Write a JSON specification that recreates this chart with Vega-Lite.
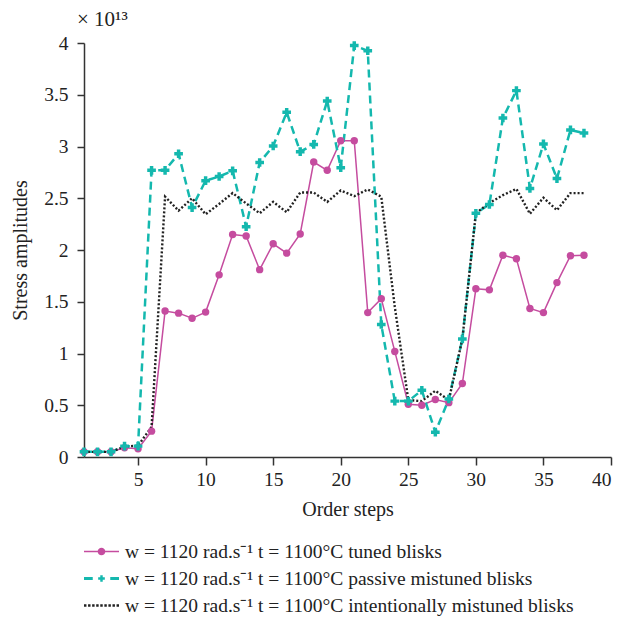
{
  "$schema": "https://vega.github.io/schema/vega-lite/v6.json",
  "width": 527,
  "height": 414,
  "autosize": {"type": "none"},
  "padding": {"left": 84, "top": 43, "right": 12, "bottom": 161},
  "background": "white",
  "config": {
    "view": {"stroke": null},
    "font": "Liberation Serif",
    "axis": {
      "grid": false,
      "domainColor": "#333333",
      "tickColor": "#333333",
      "domainWidth": 1.5,
      "tickWidth": 1.5,
      "labelColor": "#222222",
      "titleColor": "#222222",
      "labelFontSize": 19.5,
      "titleFontSize": 20,
      "titleFontWeight": "normal"
    }
  },
  "title": {
    "text": "× 10¹³",
    "anchor": "start",
    "frame": "group",
    "fontSize": 21,
    "fontWeight": "normal",
    "color": "#222222",
    "dx": -7,
    "offset": 3
  },
  "data": {
    "values": [
      {"step": 1, "series": "tuned", "stress": 0.05},
      {"step": 2, "series": "tuned", "stress": 0.05},
      {"step": 3, "series": "tuned", "stress": 0.05},
      {"step": 4, "series": "tuned", "stress": 0.09},
      {"step": 5, "series": "tuned", "stress": 0.08},
      {"step": 6, "series": "tuned", "stress": 0.25},
      {"step": 7, "series": "tuned", "stress": 1.41},
      {"step": 8, "series": "tuned", "stress": 1.39},
      {"step": 9, "series": "tuned", "stress": 1.34},
      {"step": 10, "series": "tuned", "stress": 1.40},
      {"step": 11, "series": "tuned", "stress": 1.76},
      {"step": 12, "series": "tuned", "stress": 2.15},
      {"step": 13, "series": "tuned", "stress": 2.135},
      {"step": 14, "series": "tuned", "stress": 1.81},
      {"step": 15, "series": "tuned", "stress": 2.06},
      {"step": 16, "series": "tuned", "stress": 1.97},
      {"step": 17, "series": "tuned", "stress": 2.155},
      {"step": 18, "series": "tuned", "stress": 2.85},
      {"step": 19, "series": "tuned", "stress": 2.77},
      {"step": 20, "series": "tuned", "stress": 3.055},
      {"step": 21, "series": "tuned", "stress": 3.055},
      {"step": 22, "series": "tuned", "stress": 1.395},
      {"step": 23, "series": "tuned", "stress": 1.53},
      {"step": 24, "series": "tuned", "stress": 1.02},
      {"step": 25, "series": "tuned", "stress": 0.51},
      {"step": 26, "series": "tuned", "stress": 0.50},
      {"step": 27, "series": "tuned", "stress": 0.555},
      {"step": 28, "series": "tuned", "stress": 0.525},
      {"step": 29, "series": "tuned", "stress": 0.71},
      {"step": 30, "series": "tuned", "stress": 1.625},
      {"step": 31, "series": "tuned", "stress": 1.615},
      {"step": 32, "series": "tuned", "stress": 1.95},
      {"step": 33, "series": "tuned", "stress": 1.915},
      {"step": 34, "series": "tuned", "stress": 1.435},
      {"step": 35, "series": "tuned", "stress": 1.395},
      {"step": 36, "series": "tuned", "stress": 1.685},
      {"step": 37, "series": "tuned", "stress": 1.945},
      {"step": 38, "series": "tuned", "stress": 1.95},
      {"step": 1, "series": "passive", "stress": 0.05},
      {"step": 2, "series": "passive", "stress": 0.05},
      {"step": 3, "series": "passive", "stress": 0.05},
      {"step": 4, "series": "passive", "stress": 0.105},
      {"step": 5, "series": "passive", "stress": 0.105},
      {"step": 6, "series": "passive", "stress": 2.77},
      {"step": 7, "series": "passive", "stress": 2.77},
      {"step": 8, "series": "passive", "stress": 2.93},
      {"step": 9, "series": "passive", "stress": 2.41},
      {"step": 10, "series": "passive", "stress": 2.67},
      {"step": 11, "series": "passive", "stress": 2.71},
      {"step": 12, "series": "passive", "stress": 2.765},
      {"step": 13, "series": "passive", "stress": 2.225},
      {"step": 14, "series": "passive", "stress": 2.845},
      {"step": 15, "series": "passive", "stress": 3.005},
      {"step": 16, "series": "passive", "stress": 3.33},
      {"step": 17, "series": "passive", "stress": 2.95},
      {"step": 18, "series": "passive", "stress": 3.02},
      {"step": 19, "series": "passive", "stress": 3.44},
      {"step": 20, "series": "passive", "stress": 2.795},
      {"step": 21, "series": "passive", "stress": 3.975},
      {"step": 22, "series": "passive", "stress": 3.925},
      {"step": 23, "series": "passive", "stress": 1.28},
      {"step": 24, "series": "passive", "stress": 0.54},
      {"step": 25, "series": "passive", "stress": 0.54},
      {"step": 26, "series": "passive", "stress": 0.645},
      {"step": 27, "series": "passive", "stress": 0.24},
      {"step": 28, "series": "passive", "stress": 0.56},
      {"step": 29, "series": "passive", "stress": 1.14},
      {"step": 30, "series": "passive", "stress": 2.355},
      {"step": 31, "series": "passive", "stress": 2.44},
      {"step": 32, "series": "passive", "stress": 3.275},
      {"step": 33, "series": "passive", "stress": 3.54},
      {"step": 34, "series": "passive", "stress": 2.595},
      {"step": 35, "series": "passive", "stress": 3.025},
      {"step": 36, "series": "passive", "stress": 2.69},
      {"step": 37, "series": "passive", "stress": 3.16},
      {"step": 38, "series": "passive", "stress": 3.13},
      {"step": 1, "series": "intentional", "stress": 0.05},
      {"step": 2, "series": "intentional", "stress": 0.05},
      {"step": 3, "series": "intentional", "stress": 0.05},
      {"step": 4, "series": "intentional", "stress": 0.1},
      {"step": 5, "series": "intentional", "stress": 0.11},
      {"step": 6, "series": "intentional", "stress": 0.29},
      {"step": 7, "series": "intentional", "stress": 2.515},
      {"step": 8, "series": "intentional", "stress": 2.38},
      {"step": 9, "series": "intentional", "stress": 2.50},
      {"step": 10, "series": "intentional", "stress": 2.345},
      {"step": 11, "series": "intentional", "stress": 2.445},
      {"step": 12, "series": "intentional", "stress": 2.55},
      {"step": 13, "series": "intentional", "stress": 2.45},
      {"step": 14, "series": "intentional", "stress": 2.355},
      {"step": 15, "series": "intentional", "stress": 2.465},
      {"step": 16, "series": "intentional", "stress": 2.365},
      {"step": 17, "series": "intentional", "stress": 2.555},
      {"step": 18, "series": "intentional", "stress": 2.555},
      {"step": 19, "series": "intentional", "stress": 2.465},
      {"step": 20, "series": "intentional", "stress": 2.575},
      {"step": 21, "series": "intentional", "stress": 2.52},
      {"step": 22, "series": "intentional", "stress": 2.585},
      {"step": 23, "series": "intentional", "stress": 2.515},
      {"step": 24, "series": "intentional", "stress": 1.45},
      {"step": 25, "series": "intentional", "stress": 0.55},
      {"step": 26, "series": "intentional", "stress": 0.54},
      {"step": 27, "series": "intentional", "stress": 0.64},
      {"step": 28, "series": "intentional", "stress": 0.55},
      {"step": 29, "series": "intentional", "stress": 1.14},
      {"step": 30, "series": "intentional", "stress": 2.355},
      {"step": 31, "series": "intentional", "stress": 2.455},
      {"step": 32, "series": "intentional", "stress": 2.53},
      {"step": 33, "series": "intentional", "stress": 2.59},
      {"step": 34, "series": "intentional", "stress": 2.35},
      {"step": 35, "series": "intentional", "stress": 2.505},
      {"step": 36, "series": "intentional", "stress": 2.385},
      {"step": 37, "series": "intentional", "stress": 2.55},
      {"step": 38, "series": "intentional", "stress": 2.55}
    ]
  },
  "encoding": {
    "x": {
      "field": "step",
      "type": "quantitative",
      "scale": {"domain": [1, 40], "nice": false, "zero": false},
      "axis": {
        "title": "Order steps",
        "values": [5, 10, 15, 20, 25, 30, 35, 40],
        "tickSize": 8,
        "labelPadding": 5,
        "titlePadding": 11
      }
    },
    "y": {
      "field": "stress",
      "type": "quantitative",
      "scale": {"domain": [0, 4], "nice": false},
      "axis": {
        "title": "Stress amplitudes",
        "values": [0, 0.5, 1, 1.5, 2, 2.5, 3, 3.5, 4],
        "format": "~g",
        "tickSize": 7,
        "labelPadding": 9,
        "titlePadding": 13
      }
    }
  },
  "layer": [
    {
      "transform": [{"filter": "datum.series === 'tuned'"}],
      "mark": {"type": "line", "color": "#C54C9F", "strokeWidth": 1.5},
      "encoding": {}
    },
    {
      "transform": [{"filter": "datum.series === 'passive'"}],
      "mark": {"type": "line", "color": "#14B8AE", "strokeWidth": 2.5, "strokeDash": [8, 5], "strokeCap": "butt"},
      "encoding": {}
    },
    {
      "transform": [{"filter": "datum.series === 'intentional'"}],
      "mark": {"type": "line", "color": "#222222", "strokeWidth": 2.4, "strokeDash": [2, 2], "strokeCap": "butt"},
      "encoding": {}
    },
    {
      "transform": [{"filter": "datum.series === 'tuned'"}],
      "mark": {"type": "point", "shape": "circle", "filled": true, "opacity": 1, "size": 55, "color": "#C54C9F"},
      "encoding": {}
    },
    {
      "transform": [{"filter": "datum.series === 'passive'"}],
      "mark": {"type": "point", "shape": "cross", "filled": true, "opacity": 1, "size": 75, "color": "#14B8AE"},
      "encoding": {}
    },
    {
      "transform": [{"filter": "datum.step === 1"}],
      "mark": {"type": "point", "filled": true, "size": 0, "strokeWidth": 0},
      "encoding": {
        "color": {
          "field": "series",
          "type": "nominal",
          "scale": {"domain": ["tuned", "passive", "intentional"], "range": ["#C54C9F", "#14B8AE", "#222222"]},
          "legend": {
            "title": null,
            "orient": "bottom",
            "direction": "vertical",
            "offset": 14,
            "padding": 0,
            "symbolSize": 1225,
            "symbolStrokeWidth": 0,
            "symbolOpacity": 1,
            "labelFontSize": 19.5,
            "labelColor": "#222222",
            "labelOffset": 6,
            "labelLimit": 0,
            "rowPadding": 0,
            "labelExpr": "datum.value === 'tuned' ? 'w = 1120 rad.s⁻¹ t = 1100°C tuned blisks' : datum.value === 'passive' ? 'w = 1120 rad.s⁻¹ t = 1100°C passive mistuned blisks' : 'w = 1120 rad.s⁻¹ t = 1100°C intentionally mistuned blisks'"
          }
        },
        "shape": {
          "field": "series",
          "type": "nominal",
          "scale": {
            "domain": ["tuned", "passive", "intentional"],
            "range": [
              "M-1,-0.045H1V0.045H-1Z M0.22,0A0.22,0.22,0,1,1,-0.22,0A0.22,0.22,0,1,1,0.22,0Z",
              "M-1,-0.08H-0.5V0.08H-1Z M0.5,-0.08H1V0.08H0.5Z M-0.07,-0.19H0.07V-0.07H0.19V0.07H0.07V0.19H-0.07V0.07H-0.19V-0.07H-0.07Z",
              "M-1,-0.07h0.14v0.14h-0.14Z M-0.7675,-0.07h0.14v0.14h-0.14Z M-0.535,-0.07h0.14v0.14h-0.14Z M-0.3025,-0.07h0.14v0.14h-0.14Z M-0.07,-0.07h0.14v0.14h-0.14Z M0.1625,-0.07h0.14v0.14h-0.14Z M0.395,-0.07h0.14v0.14h-0.14Z M0.6275,-0.07h0.14v0.14h-0.14Z M0.86,-0.07h0.14v0.14h-0.14Z"
            ]
          },
          "legend": {
            "title": null,
            "orient": "bottom",
            "direction": "vertical",
            "offset": 14,
            "padding": 0,
            "symbolSize": 1225,
            "symbolStrokeWidth": 0,
            "symbolOpacity": 1,
            "labelFontSize": 19.5,
            "labelColor": "#222222",
            "labelOffset": 6,
            "labelLimit": 0,
            "rowPadding": 0,
            "labelExpr": "datum.value === 'tuned' ? 'w = 1120 rad.s⁻¹ t = 1100°C tuned blisks' : datum.value === 'passive' ? 'w = 1120 rad.s⁻¹ t = 1100°C passive mistuned blisks' : 'w = 1120 rad.s⁻¹ t = 1100°C intentionally mistuned blisks'"
          }
        }
      }
    }
  ]
}
